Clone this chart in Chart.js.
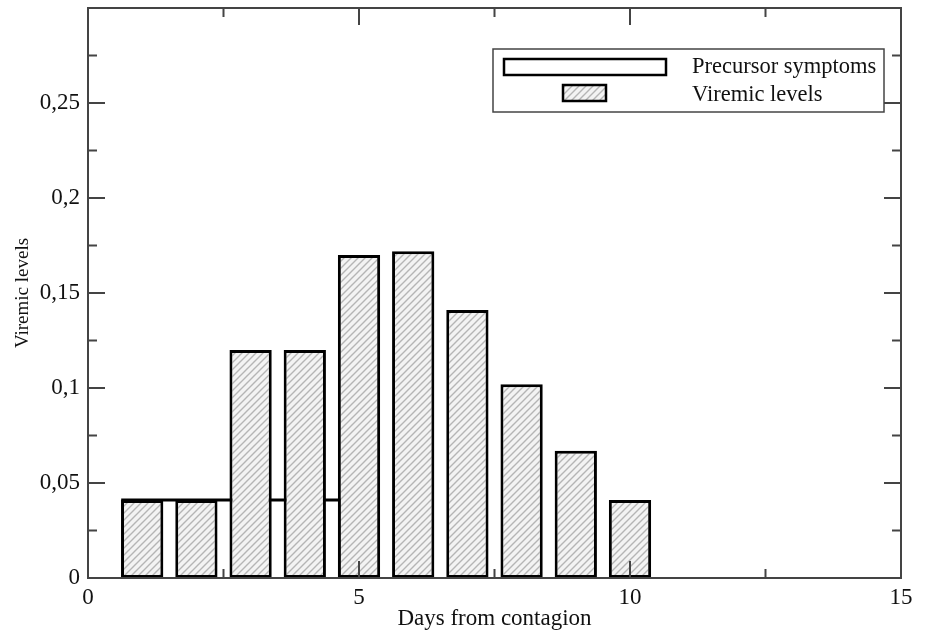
<!DOCTYPE html>
<html>
<head>
<meta charset="utf-8">
<script src="https://cdn.jsdelivr.net/npm/chart.js@4.4.1/dist/chart.umd.min.js"></script>
<style>
  html, body { margin: 0; padding: 0; background: #fff; }
</style>
</head>
<body>
<canvas id="chart" width="928" height="633"></canvas>
<script>
// viremic levels per day
let days = [0, 1, 2, 3, 4, 5, 6, 7, 8, 9, 10];
let viremic = [0, 0.041, 0.041, 0.12, 0.12, 0.17, 0.172, 0.141, 0.102, 0.067, 0.041];

// precursor symptoms: one wide box, from about day 0.6 to 4.6
let precursorX = [0.64, 0.64, 4.64, 4.64];
let precursorY = [0, 0.041, 0.041, 0];

// axis ticks
let xTicks = [0, 5, 10, 15];
let xTickLabels = ["0", "5", "10", "15"];
let xMinor = [2.5, 7.5, 12.5];
let yTicks = [0, 0.05, 0.1, 0.15, 0.2, 0.25];
let yTickLabels = ["0", "0,05", "0,1", "0,15", "0,2", "0,25"];
let yMinor = [0.025, 0.075, 0.125, 0.175, 0.225, 0.275];

const serif = "'Liberation Serif', 'DejaVu Serif', serif";

// hatch fill for the viremic bars
function hatch() {
    let c = document.createElement("canvas");
    c.width = 7;
    c.height = 7;
    let g = c.getContext("2d");
    g.fillStyle = "#f3f3f3";
    g.fillRect(0, 0, 7, 7);
    g.strokeStyle = "#b5b5b5";
    g.lineWidth = 1.4;
    g.beginPath();
    g.moveTo(-1, 8); g.lineTo(8, -1);
    g.moveTo(-4.5, 4.5); g.lineTo(4.5, -4.5);
    g.moveTo(2.5, 11.5); g.lineTo(11.5, 2.5);
    g.stroke();
    return g.createPattern(c, "repeat");
}
let pattern = hatch();

// box round the plot and inward ticks on all four sides
const frame = {
    id: "frame",
    afterDatasetsDraw(chart) {
        let ctx = chart.ctx;
        let a = chart.chartArea;
        let x = chart.scales.x, y = chart.scales.y;
        ctx.save();
        ctx.strokeStyle = "#444";
        ctx.lineWidth = 2;
        ctx.beginPath();
        let tick = (vals, len) => {
            vals.forEach((v) => {
                let px = x.getPixelForValue(v);
                ctx.moveTo(px, a.bottom); ctx.lineTo(px, a.bottom - len);
                ctx.moveTo(px, a.top); ctx.lineTo(px, a.top + len);
            });
        };
        let tickY = (vals, len) => {
            vals.forEach((v) => {
                let py = y.getPixelForValue(v);
                ctx.moveTo(a.left, py); ctx.lineTo(a.left + len, py);
                ctx.moveTo(a.right, py); ctx.lineTo(a.right - len, py);
            });
        };
        tick(xTicks, 17);
        tick(xMinor, 9);
        tickY(yTicks, 17);
        tickY(yMinor, 9);
        ctx.stroke();
        ctx.strokeRect(a.left, a.top, a.right - a.left, a.bottom - a.top);
        ctx.restore();
    },
    afterDraw(chart) {
        // legend box, top right inside the plot
        let ctx = chart.ctx;
        let a = chart.chartArea;
        let sets = chart.data.datasets;
        let bx = a.right - 408, by = a.top + 41;
        ctx.save();
        ctx.fillStyle = "#fff";
        ctx.fillRect(bx, by, 391, 63);
        ctx.strokeStyle = "#444";
        ctx.lineWidth = 1.5;
        ctx.strokeRect(bx, by, 391, 63);

        ctx.lineWidth = 2.5;
        ctx.strokeStyle = "#000";
        ctx.fillStyle = "#fff";
        ctx.fillRect(bx + 11, by + 10, 162, 16);
        ctx.strokeRect(bx + 11, by + 10, 162, 16);
        ctx.fillStyle = pattern;
        ctx.fillRect(bx + 70, by + 36, 43, 16);
        ctx.strokeRect(bx + 70, by + 36, 43, 16);

        ctx.fillStyle = "#111";
        ctx.font = "22.5px " + serif;
        ctx.textBaseline = "middle";
        ctx.fillText(sets[1].label, bx + 199, by + 18);
        ctx.fillText(sets[0].label, bx + 199, by + 46);
        ctx.restore();
    }
};

new Chart(document.getElementById("chart"), {
    type: "bar",
    data: {
        datasets: [{
            label: "Viremic levels",
            data: days.map((d, i) => ({ x: d, y: viremic[i] })),
            backgroundColor: pattern,
            borderColor: "#000",
            borderWidth: 3,
            borderSkipped: false,
            barPercentage: 0.78,
            categoryPercentage: 1,
            grouped: false,
            order: 1
        }, {
            type: "line",
            label: "Precursor symptoms",
            data: precursorX.map((d, i) => ({ x: d, y: precursorY[i] })),
            borderColor: "#000",
            borderWidth: 3,
            backgroundColor: "#fff",
            fill: "origin",
            pointRadius: 0,
            tension: 0,
            order: 2
        }]
    },
    options: {
        responsive: false,
        animation: false,
        devicePixelRatio: 1,
        layout: { padding: { top: 8, right: 27, left: 0, bottom: 0 } },
        plugins: {
            legend: { display: false },
            tooltip: { enabled: false }
        },
        scales: {
            x: {
                type: "linear",
                min: 0,
                max: 15,
                offset: false,
                grid: { display: false, drawTicks: false, offset: false },
                border: { display: false },
                afterBuildTicks: (s) => { s.ticks = xTicks.map((v) => ({ value: v })); },
                afterFit: (s) => { s.height = 55; s.paddingLeft = 0; s.paddingRight = 0; },
                ticks: {
                    autoSkip: false,
                    maxRotation: 0,
                    padding: 6,
                    color: "#111",
                    font: { family: serif, size: 23 },
                    callback: (v) => xTickLabels[xTicks.indexOf(v)]
                },
                title: {
                    display: true,
                    text: "Days from contagion",
                    color: "#111",
                    font: { family: serif, size: 23 },
                    padding: 0
                }
            },
            y: {
                min: 0,
                max: 0.3,
                grid: { display: false, drawTicks: false },
                border: { display: false },
                afterBuildTicks: (s) => { s.ticks = yTicks.map((v) => ({ value: v })); },
                afterFit: (s) => { s.width = 88; s.paddingTop = 0; s.paddingBottom = 0; },
                ticks: {
                    autoSkip: false,
                    padding: 8,
                    color: "#111",
                    font: { family: serif, size: 23 },
                    callback: (v) => yTickLabels[yTicks.indexOf(v)]
                },
                title: {
                    display: true,
                    text: "Viremic levels",
                    color: "#111",
                    font: { family: serif, size: 19 },
                    padding: { top: 12, bottom: 0 }
                }
            }
        }
    },
    plugins: [frame]
});
</script>
</body>
</html>
